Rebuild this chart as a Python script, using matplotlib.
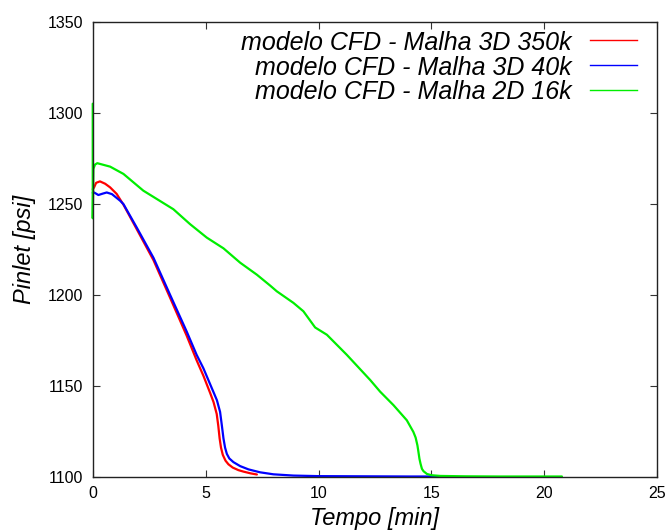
import matplotlib
matplotlib.use("Agg")
import matplotlib.pyplot as plt

# Inlet pressure histories for the three CFD meshes
labels = ["modelo CFD - Malha 3D 350k",
          "modelo CFD - Malha 3D 40k",
          "modelo CFD - Malha 2D 16k"]
colors = ["#ff0000", "#0000ff", "#00ee00"]

t_350k = [0, 0.06, 0.15, 0.32, 0.55, 0.77, 1.06, 1.36, 1.95, 2.69, 3.42, 4.16,
          4.6, 4.9, 5.2, 5.35, 5.49, 5.56, 5.62, 5.68, 5.76, 5.88, 6.01, 6.2,
          6.45, 6.67, 7.0, 7.27]
p_350k = [1258, 1259, 1261.5, 1262.3, 1261, 1259, 1255.4, 1249.5, 1236, 1219,
          1198.5, 1177.5, 1164, 1155.5, 1146, 1141, 1134.5, 1128, 1121, 1116,
          1112, 1108.8, 1106.8, 1105, 1103.6, 1102.8, 1101.8, 1101.2]

t_40k = [0, 0.06, 0.25, 0.45, 0.62, 0.85, 1.21, 1.36, 1.95, 2.69, 3.42, 4.16,
         4.6, 4.9, 5.34, 5.5, 5.64, 5.72, 5.79, 5.86, 5.94, 6.05, 6.23, 6.53,
         6.9, 7.41, 8.0, 8.89, 10.0, 12.0, 14.0, 15.5]
p_40k = [1256, 1256.2, 1254.8, 1255.6, 1256.2, 1255.3, 1251.7, 1249.8, 1236.9,
         1220.3, 1200.1, 1179.8, 1167, 1159.6, 1146.7, 1142, 1135.6, 1128,
         1121, 1116, 1112.5, 1110, 1108, 1105.8, 1104, 1102.4, 1101.3, 1100.6,
         1100.3, 1100.2, 1100.1, 1100.1]

t_16k = [0, 0, 0.03, 0.1, 0.2, 0.5, 0.77, 1.36, 2.24, 2.84, 3.57, 4.31, 5.05,
         5.79, 6.53, 7.27, 7.86, 8.15, 8.89, 9.33, 9.85, 10.37, 11.25, 12.29,
         12.73, 13.32, 13.91, 14.2, 14.3, 14.38, 14.42, 14.47, 14.52, 14.58,
         14.65, 14.8, 15.0, 15.39, 16.5, 18, 20.78]
p_16k = [1305, 1242, 1269.2, 1271.5, 1272.3, 1271.3, 1270.4, 1266.4, 1257.2,
         1252.6, 1247, 1238.8, 1231.4, 1225.5, 1217.6, 1211, 1205, 1201.9,
         1195.5, 1190.9, 1182, 1178, 1167, 1153.1, 1146.7, 1139.3, 1131,
         1124.6, 1121.5, 1117.2, 1114, 1109.8, 1107, 1104.3, 1103, 1101.5,
         1100.8, 1100.4, 1100.2, 1100.1, 1100.1]

x_ticks = [0, 5, 10, 15, 20, 25]
y_ticks = [1100, 1150, 1200, 1250, 1300, 1350]

plt.rcParams["font.family"] = ["Liberation Sans", "DejaVu Sans"]

fig = plt.figure(figsize=(6.72, 5.32), dpi=100)
ax = fig.add_axes([0.138, 0.104, 0.840, 0.855])

series = [(t_350k, p_350k), (t_40k, p_40k), (t_16k, p_16k)]
for (t, p), c in zip(series, colors):
    ax.plot(t, p, color=c, lw=1.6, zorder=2, clip_on=False,
            solid_joinstyle="round", solid_capstyle="round")

ax.set_xlim(0, 25)
ax.set_ylim(1100, 1350)
ax.set_xticks(x_ticks)
ax.set_yticks(y_ticks)
ax.tick_params(direction="in", length=5, width=0.8, top=True, right=True,
               labelsize=11.5, pad=7, color="#333333")
for s in ax.spines.values():
    s.set_color("#222222")
    s.set_linewidth(1.0)
    s.set_zorder(3)

ax.set_xlabel("Tempo [min]", fontsize=17, style="italic", labelpad=4)
ax.set_ylabel("Pinlet [psi]", fontsize=17, style="italic", labelpad=8)

# key: right-aligned labels with line samples to their right
rows_y = [0.959, 0.905, 0.851]
for lab, c, y in zip(labels, colors, rows_y):
    ax.text(0.849, y, lab, transform=ax.transAxes, ha="right",
            va="center_baseline", fontsize=18, style="italic")
    ax.plot([0.881, 0.965], [y, y], transform=ax.transAxes, color=c,
            lw=1.0, clip_on=False)

fig.savefig("out.png", dpi=100)
